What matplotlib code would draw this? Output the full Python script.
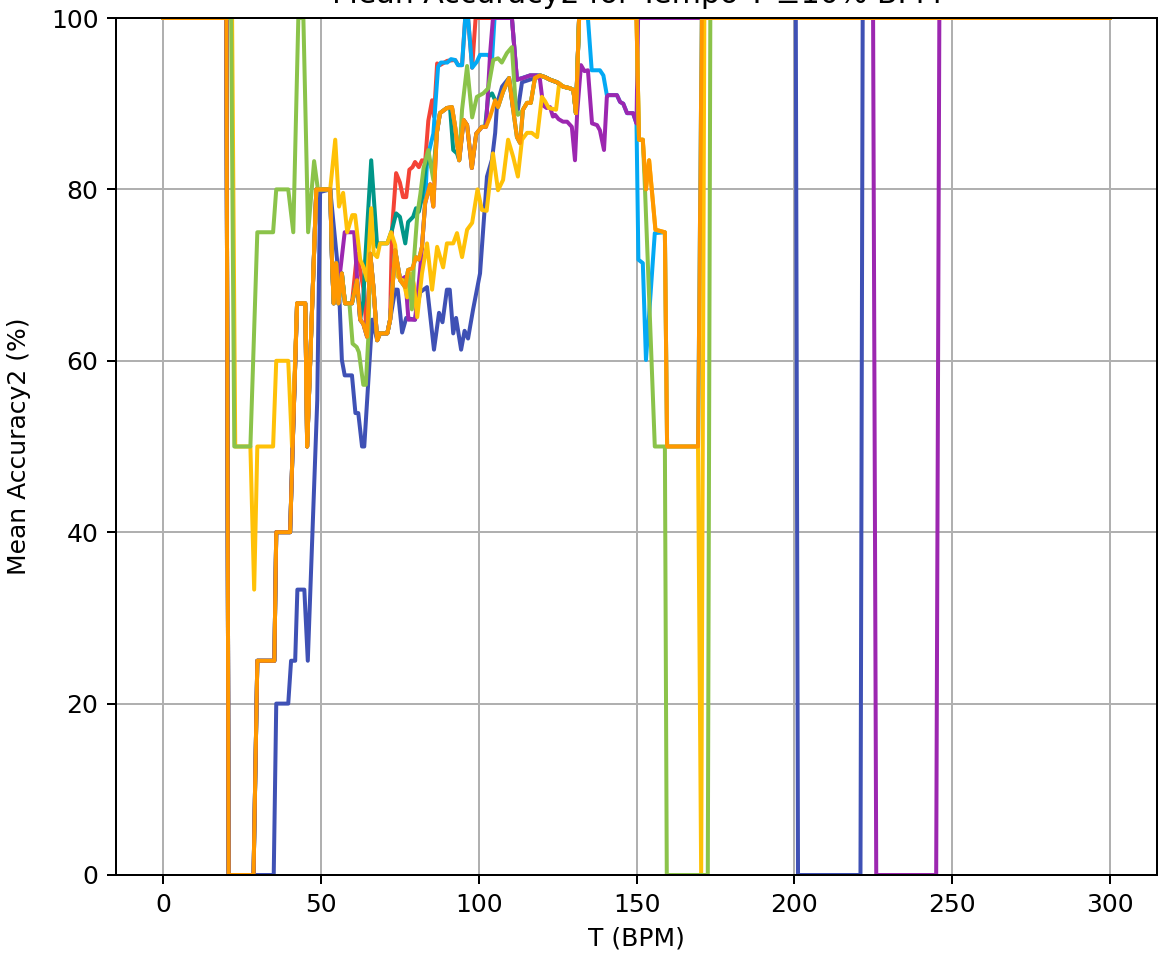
import matplotlib
matplotlib.use("Agg")
import matplotlib.pyplot as plt

# (BPM, mean accuracy %)
orange_pts = [
    (0, 100), (20, 100), (20.7, 0), (28.6, 0), (29.8, 25), (35.2, 25), (35.8, 40), (40.2, 40),
    (41, 50), (42.4, 66.7), (45, 66.7), (45.6, 50), (48.5, 80), (52.9, 80), (53.5, 71.4),
    (54, 66.7), (54.8, 71.4), (55.5, 66.7), (56.6, 70.2), (57.6, 66.7), (59.8, 66.7),
    (61.4, 69.4), (62.4, 64.8), (63.4, 64.3), (64.6, 62.8), (65.6, 72.5), (66.6, 68.6),
    (67.8, 62.4), (68.7, 63.2), (71, 63.2), (71.9, 64.8), (73.5, 72.9), (75.1, 69.4),
    (76.7, 68.6), (77.6, 70.6), (79, 70.8), (80.1, 72.1), (81, 71.8), (82, 73.3), (83, 78.4),
    (84.6, 80.6), (85.6, 78), (86.7, 86.6), (87.7, 88.9), (89.9, 89.5), (91.5, 89.6),
    (92.5, 87.3), (93.8, 83.4), (95.2, 88.1), (96.3, 87.5), (97.8, 82.5), (99.2, 86.5),
    (101, 87.3), (102.3, 87.3), (103.6, 88.5), (105.2, 90.4), (106.1, 89.6), (107.7, 91.4),
    (109.6, 93), (110.9, 89.3), (112.1, 86.1), (113.1, 85.4), (114, 89.3), (115.3, 90.1),
    (116.5, 90.1), (117.8, 93), (119.4, 93.3), (121, 93.1), (122.6, 92.8), (124.8, 92.5),
    (126.7, 92), (128.9, 91.8), (130, 91.6), (130.8, 88.9), (131.8, 100), (150, 100),
    (150.8, 85.8), (152, 85.8), (153, 80), (154, 83.4), (156, 75.3), (159, 75), (159.7, 50),
    (169.5, 50), (170.7, 100), (300, 100),
]


def orange_part(lo, hi):
    return [p for p in orange_pts if lo <= p[0] <= hi]


indigo_pts = [
    (0, 100), (20, 100), (20.7, 0), (35, 0), (35.8, 20), (39.6, 20), (40.5, 25), (41.8, 25),
    (42.5, 33.3), (44.7, 33.3), (45.8, 25), (48.8, 55.4), (49.7, 79.7), (52.9, 80),
    (55.5, 70.2), (56.6, 60.1), (57.5, 58.3), (59.8, 58.3), (60.9, 53.9), (61.8, 53.9),
    (63, 50), (63.7, 50), (66.2, 64.8), (67.8, 62.4), (68.7, 63.2), (71, 63.2), (71.9, 64.8),
    (73.5, 68.3), (74.3, 68.3), (75.7, 63.3), (77, 65), (79.8, 64.8), (81.4, 68), (83.6, 68.6),
    (85.8, 61.3), (87.4, 65.6), (88.5, 64.5), (89.9, 68.3), (90.8, 68.3), (91.9, 63.2),
    (92.8, 65), (94.4, 61.3), (95.5, 63.5), (96.6, 62.6), (98.2, 66), (100.4, 70.2),
    (102.6, 81.5), (104.2, 83.5), (105.2, 86.6), (105.8, 90), (107.4, 92), (109.6, 93),
    (110.9, 89.3), (112.4, 89.3), (113.7, 92.5), (117.8, 93),
] + orange_part(119.4, 131.8) + [(200.5, 100), (201.2, 0), (221, 0), (221.7, 100), (300, 100)]

red_pts = orange_part(0, 59.8) + [
    (61.4, 72.5), (62.4, 70.5), (63.4, 68.5), (64.6, 62.8), (65.6, 72.5), (66.6, 68.6),
    (67.8, 62.4), (68.7, 63.2), (71, 63.2), (71.9, 64.8), (72.5, 75.3), (73.8, 81.9),
    (75, 80.8), (76, 79.1), (77, 79.1), (78, 82.3), (79, 82.6), (79.8, 83.2), (81, 82.6),
    (82, 83.4), (83, 83.2), (84, 88), (85.2, 90.4), (85.8, 88.5), (86.8, 94.7), (87.7, 94.5),
    (90, 95), (92.5, 95.1), (93.5, 94.5), (94.7, 94.5), (95.7, 100), (96.6, 100),
    (97.9, 94.2), (99, 100), (110.5, 100), (112.1, 92.8), (114, 93), (116.3, 93.3),
] + orange_part(119.4, 131.8) + [(300, 100)]

lightblue_pts = orange_part(0, 83) + [
    (83.6, 83.4), (84.6, 85), (85.6, 86.5), (87.1, 94.3), (88, 94.8), (90, 94.8),
    (91.2, 95.2), (92.5, 95.1), (93.4, 94.5), (94.7, 94.5), (95.7, 100), (96.6, 100),
    (97.9, 94.2), (99.4, 94.9), (100.4, 95.7), (103, 95.7), (104.2, 95.1), (105, 100),
    (110.5, 100), (112.1, 92.8), (116.3, 93.3),
] + orange_part(119.4, 131.8) + [
    (134.6, 100), (135.8, 93.9), (138.4, 93.9), (139.5, 93.3), (140.6, 91), (143.8, 91),
    (144.8, 90.2), (145.8, 90), (147, 88.9), (148.9, 88.9), (150, 87.7), (150.6, 71.8),
    (152, 71.4), (153, 60.1), (155.8, 74.9),
] + orange_part(159, 300)

teal_pts = orange_part(0, 62.4) + [
    (63.4, 67), (64, 71.8), (65.9, 83.4), (67.8, 73.3), (68.7, 73.7), (71, 73.7),
    (72.5, 75.3), (73.8, 77.2), (75, 76.8), (76.7, 73.7), (77.6, 76.2), (79.2, 76.8),
    (80.1, 77.8), (81, 77.4), (82, 79), (83.6, 84), (85.6, 82),
] + orange_part(86.7, 89.9) + [(90.9, 89.5), (91.9, 84.6), (93.1, 84.2)] + orange_part(93.8, 101) + [
    (102, 87.3), (103, 90.8), (104.2, 91.2),
] + orange_part(105.2, 131.8) + [(300, 100)]

purple_pts = orange_part(0, 55.5) + [
    (56, 70.2), (57.5, 75), (60.5, 75), (61.4, 69.8),
] + orange_part(62.4, 75.1) + [
    (76.7, 69.8), (77.7, 64.8), (79.8, 64.8), (81.4, 70.6),
] + orange_part(82, 102.3) + [
    (103.6, 95.9), (104.5, 100), (110.5, 100), (112.1, 92.8), (114, 93), (116.3, 93.3),
    (118.5, 93.3), (119.4, 92.8), (120.4, 89.8), (121.5, 89.5), (122.6, 89.6), (123.5, 88.5),
    (124.2, 88.7), (125.3, 88.2), (126.7, 87.9), (128, 87.9), (129.5, 87.3), (130.5, 83.4),
    (131.2, 89), (132.4, 94.5), (133.5, 93.8), (134.6, 93.9), (135.9, 87.7), (137.5, 87.5),
    (138.4, 86.9), (139.7, 84.6), (140.6, 90.8), (141, 91), (143.8, 91), (144.8, 90.2),
    (145.8, 90), (147, 88.9), (148.9, 88.9), (150, 87.7), (150.5, 100), (225, 100),
    (226, 0), (245, 0), (246, 100), (300, 100),
]

amber_pts = [
    (0, 100), (21.8, 100), (22.8, 50), (27.6, 50), (28.8, 33.3), (29.8, 50), (34.8, 50),
    (35.8, 60), (39.6, 60), (40.8, 50),
] + orange_part(42.4, 52.9) + [
    (54.5, 85.8), (55.7, 78), (57, 79.6), (58.3, 75), (59.9, 77), (60.8, 77), (62.4, 71.8),
    (63.4, 71), (64.6, 69.4), (65.9, 77.8), (66.7, 72.5), (67.8, 72.1), (68.7, 73.7),
    (71, 73.7), (72.2, 75), (73.5, 73.5), (74.4, 69.8), (75.5, 69.4), (76, 69.4),
    (77.3, 67.4), (78.5, 70.2), (79.4, 69), (80.5, 65.1), (82, 70.2), (83.6, 73.7),
    (85.2, 68.3), (86.8, 73.3), (88.7, 70.9), (89.9, 73.7), (91.9, 73.7), (93.1, 74.9),
    (94.7, 72.1), (96.3, 75.3), (97.9, 76.1), (99.6, 80), (101, 77.6), (102.5, 77.5),
    (104.5, 84.2), (106.1, 79.9), (107.7, 81.1), (109.3, 85.8), (110.9, 83.8), (112.4, 81.5),
    (113.7, 85.8), (115.3, 86.6), (116.8, 86.6), (118.5, 86.1), (120, 90.8), (121, 90.3),
    (122.2, 89.5), (124.5, 89.3), (125.5, 92.4),
] + orange_part(126.7, 169.5) + [(170.5, 0), (171.5, 100), (300, 100)]

green_pts = [
    (0, 100), (21.5, 100), (22.5, 50), (27.6, 50), (29.8, 75), (34.8, 75), (35.8, 80),
    (39.6, 80), (41.2, 75), (42.8, 100), (44.4, 100), (45.9, 75), (47.8, 83.3), (49, 80),
    (52.9, 80), (53.5, 71.4), (54, 66.7), (54.8, 71.4), (55.5, 66.7), (56.6, 70.2),
    (57.6, 66.7), (59, 66.7), (60, 62), (61.3, 61.6), (62, 61), (63.4, 57.2), (64.2, 57.2),
    (65, 62.8),
] + orange_part(65.6, 77.6) + [
    (78.8, 66), (79.5, 72), (80.5, 77), (81.5, 79.5), (82.5, 82.5), (84, 84.6), (85.6, 81.1),
] + orange_part(86.7, 93.8) + [
    (94.7, 89.3), (96.3, 94.4), (97.9, 88.4), (99.4, 90.8), (101.4, 91.2), (103, 91.8),
    (104.6, 95.1), (106.1, 95.3), (107.3, 94.8), (108.9, 95.9), (110.5, 96.6), (111.8, 89.3),
    (112.4, 88.7), (113.5, 89),
] + orange_part(114, 150.8) + [
    (152, 85.8), (152.7, 80), (155.8, 50), (159, 50), (159.6, 0), (172.6, 0), (173.4, 100),
    (300, 100),
]

series = [
    (indigo_pts, "#3F51B5"),
    (red_pts, "#F44336"),
    (lightblue_pts, "#03A9F4"),
    (teal_pts, "#009688"),
    (purple_pts, "#9C27B0"),
    (amber_pts, "#FFC107"),
    (green_pts, "#8BC34A"),
    (orange_pts, "#FF9800"),
]

fig = plt.figure(figsize=(1168 / 180, 957 / 180), dpi=180)
ax = fig.add_axes([116 / 1168, 1 - 875 / 957, (1157 - 116) / 1168, (875 - 18) / 957])
for pts, color in series:
    bpm, acc = zip(*pts)
    ax.plot(bpm, acc, color=color, linewidth=1.6)

ax.set_ylim(0, 100)
ax.set_xticks([0, 50, 100, 150, 200, 250, 300])
ax.grid(True)
ax.set_title("Mean Accuracy2 for Tempo T \u00b110% BPM")
ax.set_xlabel("T (BPM)")
ax.set_ylabel("Mean Accuracy2 (%)", labelpad=8)
fig.savefig("out.png", dpi=180)
